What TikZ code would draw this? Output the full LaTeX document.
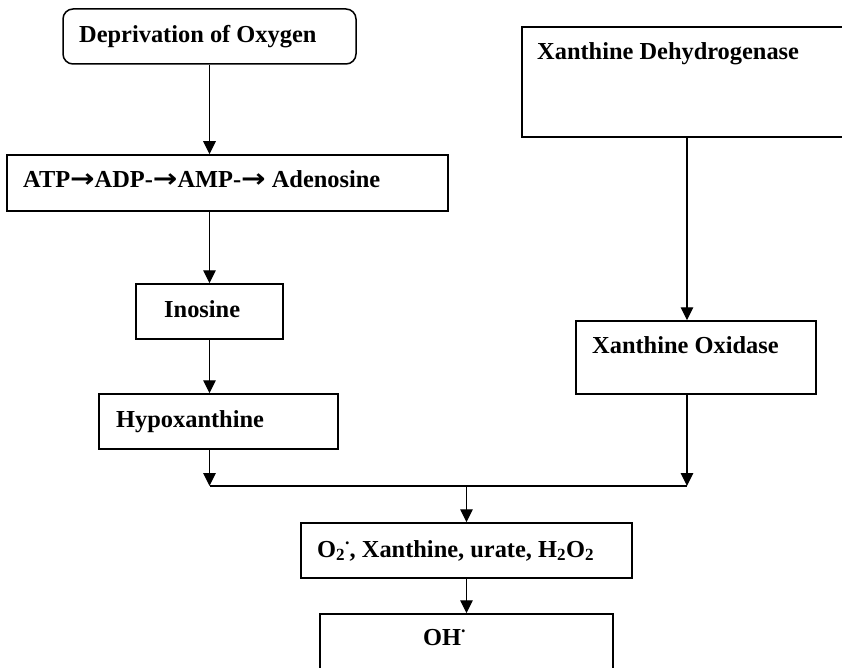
\documentclass[tikz,border=0pt]{standalone}
\usepackage{fontspec}
\setmainfont{Liberation Serif}
\newfontfamily\arrowfont{DejaVu Sans}
\usetikzlibrary{arrows.meta}
\newcommand{\rdot}{\raisebox{0.5em}{\fontsize{18}{18}\selectfont.}}
\newcommand{\tarr}{\scalebox{1.2}[1.05]{\arrowfont\bfseries →}}
\begin{document}
\begin{tikzpicture}[x=1pt,y=-1pt,
 box/.style={draw, line width=1.5pt, inner sep=0pt},
 lbl/.style={anchor=base west, inner sep=0pt, font=\fontsize{24.4}{28}\selectfont\bfseries},
 arr/.style={line width=1.4pt, -{Triangle[length=13pt,width=12.5pt]}},
 ln/.style={line width=1.4pt}]
\clip (0,0) rectangle (842,668);
\fill[white] (0,0) rectangle (842,668);
% boxes
\node[box, rounded corners=10pt, minimum width=293pt, minimum height=55pt] (b1) at (209.5,36.5) {};
\node[box, minimum width=348pt, minimum height=110pt] (xd) at (696,82) {};
\node[box, minimum width=441pt, minimum height=56pt] (b3) at (227.5,183) {};
\node[box, minimum width=147pt, minimum height=55pt] (ino) at (209.5,311.5) {};
\node[box, minimum width=239pt, minimum height=55pt] (hyp) at (218.5,421.5) {};
\node[box, minimum width=240pt, minimum height=73pt] (xo) at (696,357.5) {};
\node[box, minimum width=331pt, minimum height=55pt] (o2) at (466.5,550.5) {};
\node[box, minimum width=293pt, minimum height=86pt] (oh) at (466.5,657) {};
% texts
\node[lbl] (t1) at (79,43) {Deprivation of Oxygen};
\node[lbl] (txd) at (537,60) {Xanthine Dehydrogenase};
\node[lbl] (t3) at (23,188) {ATP\tarr ADP-\tarr AMP-\tarr\ Adenosine};
\node[lbl] (tino) at (164,317) {Inosine};
\node[lbl] (thyp) at (116,427) {Hypoxanthine};
\node[lbl] (txo) at (592,353) {Xanthine Oxidase};
\node[lbl] (to2) at (317,557) {O\textsubscript{2}\rdot, Xanthine, urate, H\textsubscript{2}O\textsubscript{2}};
\node[lbl] (toh) at (423,645) {OH\rdot};
% junctions
\coordinate (jl) at (209.5,486);
\coordinate (jr) at (687,486);
\coordinate (jm) at (466.5,486);
% connectors
\draw[arr] (b1.south) -- (b1.south |- b3.north);
\draw[arr] (b1.south |- b3.south) -- (ino.north);
\draw[arr] (ino.south) -- (ino.south |- hyp.north);
\draw[arr] (ino.south |- hyp.south) -- (jl);
\draw[arr] (xd.south -| jr) -- (xo.north -| jr);
\draw[arr] (xo.south -| jr) -- (jr);
\draw[ln] (jl) -- (jr);
\draw[arr] (jm) -- (o2.north);
\draw[arr] (o2.south) -- (oh.north);
\end{tikzpicture}
\end{document}
